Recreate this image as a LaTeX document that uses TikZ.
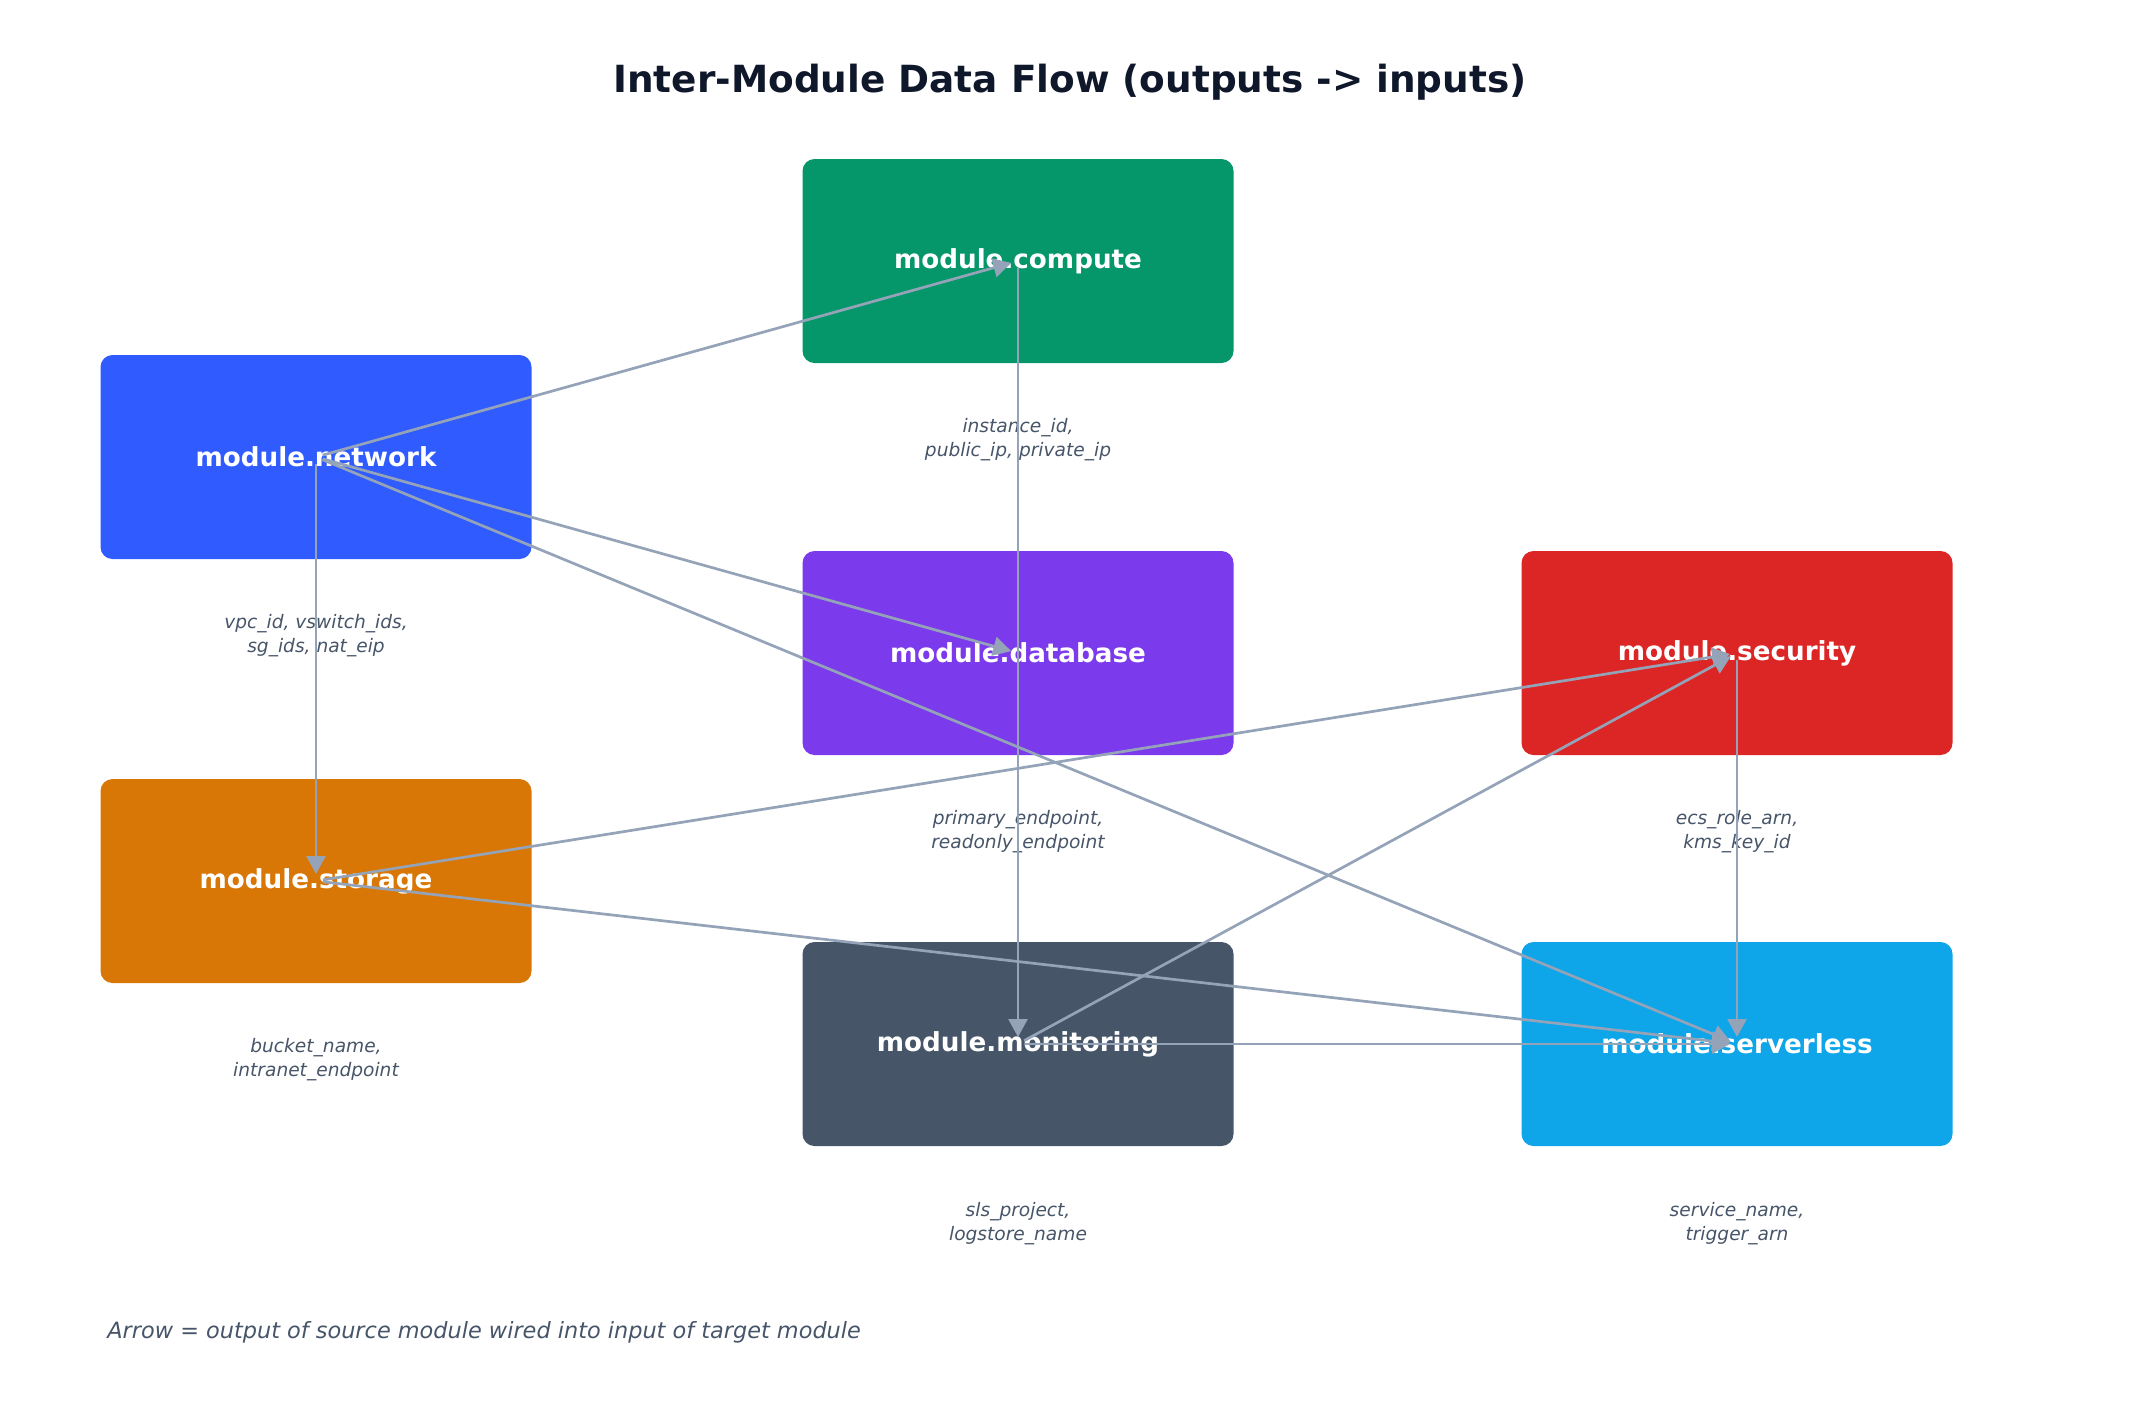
\documentclass[tikz,border=0pt]{standalone}
\usepackage{fontspec}
\setmainfont{DejaVu Sans}
\usepackage{xcolor}
\usetikzlibrary{arrows.meta}
\definecolor{netblue}{RGB}{47,91,255}
\definecolor{compgreen}{RGB}{5,150,105}
\definecolor{dbpurple}{RGB}{124,58,237}
\definecolor{secred}{RGB}{220,38,38}
\definecolor{storeorange}{RGB}{217,119,6}
\definecolor{monslate}{RGB}{71,85,105}
\definecolor{srvsky}{RGB}{14,165,233}
\definecolor{wire}{RGB}{148,163,184}
\definecolor{titleink}{RGB}{15,23,42}
\definecolor{noteink}{RGB}{71,85,105}

\begin{document}
\begin{tikzpicture}[x=0.5pt, y=-0.5pt,
  modbox/.style={rounded corners=6pt, minimum width=215.5pt, minimum height=102pt,
    inner sep=0pt, text=white, font=\fontsize{13.1}{15}\selectfont\bfseries},
  outlbl/.style={align=center, text=noteink, inner sep=0pt,
    font=\fontsize{9.3}{12}\selectfont\itshape},
  wiring/.style={-{Triangle[length=9pt,width=9.5pt]}, line width=1.35pt, color=wire,
    shorten <=3.5pt, shorten >=3.5pt}]
\useasboundingbox (0,0) rectangle (2141,1421);

\node[font=\fontsize{18.7}{22}\selectfont\bfseries, text=titleink] (title) at (1070,82)
  {Inter-Module Data Flow (outputs -> inputs)};

\node[modbox, fill=netblue] (network) at (316,457) {module.network};
\node[modbox, fill=compgreen] (compute) at (1018,261) {module.compute};
\node[modbox, fill=dbpurple] (database) at (1018,653) {module.database};
\node[modbox, fill=secred] (security) at (1737,653) {module.security};
\node[modbox, fill=storeorange] (storage) at (316,881) {module.storage};
\node[modbox, fill=monslate] (monitoring) at (1018,1044) {module.monitoring};
\node[modbox, fill=srvsky] (serverless) at (1737,1044) {module.serverless};

\node[outlbl] (netout) at (316,636) {vpc\_id, vswitch\_ids,\\sg\_ids, nat\_eip};
\node[outlbl] (compout) at (1018,440) {instance\_id,\\public\_ip, private\_ip};
\node[outlbl] (dbout) at (1018,832) {primary\_endpoint,\\readonly\_endpoint};
\node[outlbl] (secout) at (1737,832) {ecs\_role\_arn,\\kms\_key\_id};
\node[outlbl] (storeout) at (316,1060) {bucket\_name,\\intranet\_endpoint};
\node[outlbl] (monout) at (1018,1224) {sls\_project,\\logstore\_name};
\node[outlbl] (srvout) at (1737,1224) {service\_name,\\trigger\_arn};

\foreach \src/\dst in {network/compute, network/database, network/serverless,
    network/storage, compute/monitoring, storage/security, storage/serverless,
    monitoring/security, monitoring/serverless, security/serverless}
  \draw[wiring] (\src.center) -- (\dst.center);

\node[anchor=west, text=noteink, inner sep=0pt, font=\fontsize{11.2}{13}\selectfont\itshape]
  (legend) at (107,1332) {Arrow = output of source module wired into input of target module};

\end{tikzpicture}
\end{document}
